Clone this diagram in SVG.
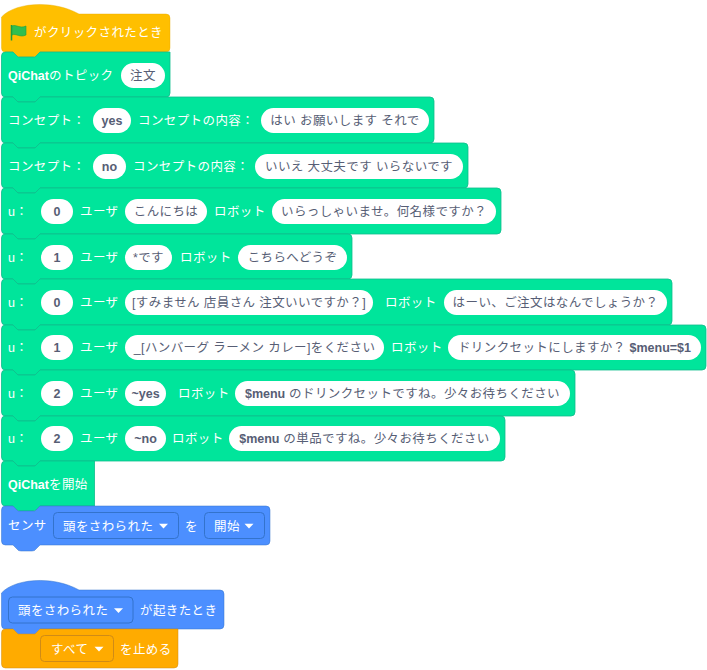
<svg xmlns="http://www.w3.org/2000/svg" width="707" height="670" viewBox="0 0 707 670">
<style>
text{font-family:"Liberation Sans","Noto Sans CJK JP",sans-serif;font-size:12.5px;letter-spacing:.4px;dominant-baseline:central}
.w{fill:#fff}
.d{fill:#575E75;text-anchor:middle}
.b{font-weight:700;letter-spacing:0}
.g{fill:#00E59B;stroke:#0FBD8C;stroke-opacity:.8}
.y{fill:#FFBF00;stroke:#E6AC00;stroke-opacity:.4}
.u{fill:#4C8FFF;stroke:#3373CC;stroke-opacity:.5}
.o{fill:#FFAB00;stroke:#CF8B17;stroke-opacity:.5}
.dd{stroke-opacity:1}
.p{fill:#fff}
.ar{fill:#fff}
</style>
<defs>
<path id="tri" d="M-4.500-2.200h9L0 2.400z" class="ar"/>
</defs>
<g id="n-flag">
<path class="y" d="M1.500 17C14 3 52 -1 79 14H166Q170 14 170 18V48Q170 52 166 52H40L36 56Q35 57 33 57H20Q18 57 17 56L13 52H5.500Q1.500 52 1.500 48Z"/>
<path d="M11.500 25V40.500" stroke="#1E9E3C" stroke-width="1.500" fill="none"/>
<path d="M12 26C16 24 20 29 26 26V35C20 38 16 33 12 35Z" fill="#2FBF4F" stroke="#1E9E3C" stroke-width=".6"/>
<text class="w" x="34" y="33">がクリックされたとき</text>
</g>
<g id="n-topic">
<path class="g" d="M1.500 56Q1.500 52 5.500 52H13L18 57H35L40 52H170V93Q170 97 166 97H40L35 102H18L13 97H5.500Q1.500 97 1.500 93Z"/>
<text class="w" x="8" y="76"><tspan class="b">QiChat</tspan>のトピック</text>
<rect class="p" x="121" y="63" width="44" height="25" rx="12.500"/><text class="d" x="143" y="76">注文</text>
</g>
<g id="n-c1">
<path class="g" d="M1.500 101Q1.500 97 5.500 97H13L18 102H35L40 97H430Q434 97 434 101V139Q434 143 430 143H40L35 148H18L13 143H5.500Q1.500 143 1.500 139Z"/>
<text class="w" x="8" y="121">コンセプト：</text>
<rect class="p" x="93" y="108" width="38" height="25" rx="12.500"/><text class="d b" x="112" y="121">yes</text>
<text class="w" x="138" y="121">コンセプトの内容：</text>
<rect class="p" x="261" y="108" width="168" height="25" rx="12.500"/><text class="d" x="345" y="121">はい お願いします それで</text>
</g>
<g id="n-c2">
<path class="g" d="M1.500 147Q1.500 143 5.500 143H13L18 148H35L40 143H464Q468 143 468 147V184Q468 188 464 188H40L35 193H18L13 188H5.500Q1.500 188 1.500 184Z"/>
<text class="w" x="8" y="167">コンセプト：</text>
<rect class="p" x="93" y="154" width="33" height="25" rx="12.500"/><text class="d b" x="109.500" y="167">no</text>
<text class="w" x="133" y="167">コンセプトの内容：</text>
<rect class="p" x="255" y="154" width="208" height="25" rx="12.500"/><text class="d" x="359" y="167">いいえ 大丈夫です いらないです</text>
</g>
<g id="n-u1">
<path class="g" d="M1.500 192Q1.500 188 5.500 188H13L18 193H35L40 188H497Q501 188 501 192V230Q501 234 497 234H40L35 239H18L13 234H5.500Q1.500 234 1.500 230Z"/>
<text class="w" x="8" y="212">u：</text>
<rect class="p" x="41" y="199" width="32" height="25" rx="12.500"/><text class="d b" x="57" y="212">0</text>
<text class="w" x="80" y="212">ユーザ</text>
<rect class="p" x="125" y="199" width="82" height="25" rx="12.500"/><text class="d" x="166" y="212">こんにちは</text>
<text class="w" x="214" y="212">ロボット</text>
<rect class="p" x="272" y="199" width="224" height="25" rx="12.500"/><text class="d" x="384" y="212">いらっしゃいませ。何名様ですか？</text>
</g>
<g id="n-u2">
<path class="g" d="M1.500 238Q1.500 234 5.500 234H13L18 239H35L40 234H348Q352 234 352 238V275Q352 279 348 279H40L35 284H18L13 279H5.500Q1.500 279 1.500 275Z"/>
<text class="w" x="8" y="258">u：</text>
<rect class="p" x="41" y="245" width="32" height="25" rx="12.500"/><text class="d b" x="57" y="258">1</text>
<text class="w" x="80" y="258">ユーザ</text>
<rect class="p" x="125" y="245" width="47" height="25" rx="12.500"/><text class="d" x="148.500" y="258">*です</text>
<text class="w" x="180" y="258">ロボット</text>
<rect class="p" x="238" y="245" width="109" height="25" rx="12.500"/><text class="d" x="292.500" y="258">こちらへどうぞ</text>
</g>
<g id="n-u3">
<path class="g" d="M1.500 283Q1.500 279 5.500 279H13L18 284H35L40 279H668Q672 279 672 283V321Q672 325 668 325H40L35 330H18L13 325H5.500Q1.500 325 1.500 321Z"/>
<text class="w" x="8" y="303">u：</text>
<rect class="p" x="41" y="290" width="32" height="25" rx="12.500"/><text class="d b" x="57" y="303">0</text>
<text class="w" x="80" y="303">ユーザ</text>
<rect class="p" x="125" y="290" width="248" height="25" rx="12.500"/><text class="d" x="249" y="303">[すみません 店員さん 注文いいですか？]</text>
<text class="w" x="385" y="303">ロボット</text>
<rect class="p" x="444" y="290" width="223" height="25" rx="12.500"/><text class="d" x="555.500" y="303">はーい、ご注文はなんでしょうか？</text>
</g>
<g id="n-u4">
<path class="g" d="M1.500 329Q1.500 325 5.500 325H13L18 330H35L40 325H702Q706 325 706 329V366Q706 370 702 370H40L35 375H18L13 370H5.500Q1.500 370 1.500 366Z"/>
<text class="w" x="8" y="348">u：</text>
<rect class="p" x="41" y="335" width="32" height="25" rx="12.500"/><text class="d b" x="57" y="348">1</text>
<text class="w" x="80" y="348">ユーザ</text>
<rect class="p" x="125" y="335" width="259" height="25" rx="12.500"/><text class="d" x="254.500" y="348">_[ハンバーグ ラーメン カレー]をください</text>
<text class="w" x="391" y="348">ロボット</text>
<rect class="p" x="448" y="335" width="253" height="25" rx="12.500"/><text class="d" x="574.500" y="348">ドリンクセットにしますか？ <tspan class="b">$menu=$1</tspan></text>
</g>
<g id="n-u5">
<path class="g" d="M1.500 374Q1.500 370 5.500 370H13L18 375H35L40 370H571Q575 370 575 374V412Q575 416 571 416H40L35 421H18L13 416H5.500Q1.500 416 1.500 412Z"/>
<text class="w" x="8" y="394">u：</text>
<rect class="p" x="41" y="381" width="32" height="25" rx="12.500"/><text class="d b" x="57" y="394">2</text>
<text class="w" x="80" y="394">ユーザ</text>
<rect class="p" x="125" y="381" width="41" height="25" rx="12.500"/><text class="d" x="145.500" y="394"><tspan class="b">~yes</tspan></text>
<text class="w" x="178" y="394">ロボット</text>
<rect class="p" x="235" y="381" width="335" height="25" rx="12.500"/><text class="d" x="402.500" y="394"><tspan class="b">$menu</tspan> のドリンクセットですね。少々お待ちください</text>
</g>
<g id="n-u6">
<path class="g" d="M1.500 420Q1.500 416 5.500 416H13L18 421H35L40 416H501Q505 416 505 420V457Q505 461 501 461H40L35 466H18L13 461H5.500Q1.500 461 1.500 457Z"/>
<text class="w" x="8" y="439">u：</text>
<rect class="p" x="41" y="426" width="32" height="25" rx="12.500"/><text class="d b" x="57" y="439">2</text>
<text class="w" x="80" y="439">ユーザ</text>
<rect class="p" x="125" y="426" width="41" height="25" rx="12.500"/><text class="d" x="145.500" y="439"><tspan class="b">~no</tspan></text>
<text class="w" x="172" y="439">ロボット</text>
<rect class="p" x="229" y="426" width="271" height="25" rx="12.500"/><text class="d" x="364.500" y="439"><tspan class="b">$menu</tspan> の単品ですね。少々お待ちください</text>
</g>
<g id="n-start">
<path class="g" d="M1.500 465Q1.500 461 5.500 461H13L18 466H35L40 461H94.500V506H40L36 510Q35 511 33 511H20Q18 511 17 510L13 506H5.500Q1.500 506 1.500 502Z"/>
<text class="w" x="8" y="485"><tspan class="b">QiChat</tspan>を開始</text>
</g>
<g id="n-sensor">
<path class="u" d="M1.500 510Q1.500 506 5.500 506H13L18 511H35L40 506H266Q270 506 270 510V541Q270 545 266 545H40L36 549Q35 551 32 551H21Q18 551 17 549L13 545H5.500Q1.500 545 1.500 541Z"/>
<text class="w" x="8" y="526">センサ</text>
<rect class="u dd" x="53.500" y="512.500" width="125" height="26" rx="4"/>
<text class="w" x="63" y="526.500">頭をさわられた</text><use href="#tri" x="163.500" y="526"/>
<text class="w" x="185" y="526.500">を</text>
<rect class="u dd" x="204.500" y="512.500" width="60" height="26" rx="4"/>
<text class="w" x="214" y="526.500">開始</text><use href="#tri" x="249" y="526"/>
</g>
<g id="n-event">
<path class="u" d="M1.500 593C14 579 52 575 79 590H220Q224 590 224 594V625Q224 629 220 629H40L36 633Q35 635 32 635H21Q18 635 17 633L13 629H5.500Q1.500 629 1.500 625Z"/>
<rect class="u dd" x="8.500" y="597" width="124.500" height="26" rx="4"/>
<text class="w" x="18" y="610.500">頭をさわられた</text><use href="#tri" x="118.500" y="610.500"/>
<text class="w" x="140" y="610.500">が起きたとき</text>
</g>
<g id="n-stop">
<path class="o" d="M1.500 633Q1.500 629 5.500 629H13L18 634H35L40 629H178V664Q178 668 174 668H5.500Q1.500 668 1.500 664Z"/>
<rect class="o dd" x="40.500" y="635.500" width="73" height="26" rx="4"/>
<text class="w" x="51" y="649.500">すべて</text><use href="#tri" x="99" y="649"/>
<text class="w" x="120" y="649.500">を止める</text>
</g>
<g id="connectors"/>
</svg>
